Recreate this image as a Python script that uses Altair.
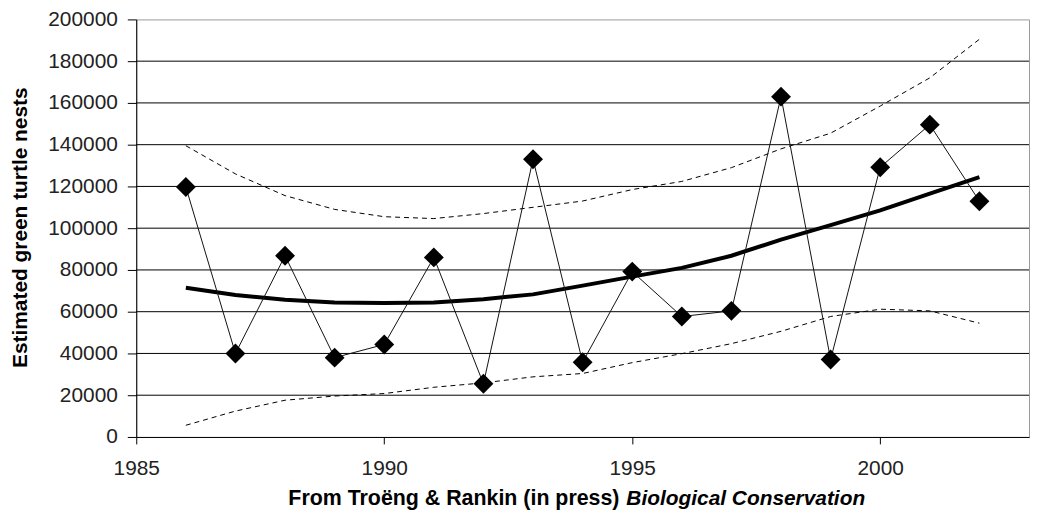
import altair as alt
import pandas as pd

years = list(range(1986, 2003))
observed = [119700, 40000, 86800, 38000, 44300, 86000, 25500, 133000, 35800,
            79200, 57700, 60400, 163000, 37100, 129200, 149600, 112900]
trend = [71500, 68000, 65700, 64400, 64200, 64400, 66000, 68300, 72500,
         76800, 81000, 86800, 94500, 101500, 108500, 116500, 124500]
upper = [139500, 126000, 115600, 109000, 105500, 104600, 107000, 110000, 113000,
         118500, 122400, 129000, 138000, 145500, 158500, 172000, 190500]
lower = [5600, 12400, 17600, 19600, 20800, 23800, 25900, 28800, 30400,
         35600, 39900, 44700, 50600, 57700, 61200, 60400, 54500]

x_ticks = [1985, 1990, 1995, 2000]
y_ticks = list(range(0, 200001, 20000))
grid_vals = list(range(20000, 180001, 20000))

y_title = "Estimated green turtle nests"
x_title_plain = "From Troëng & Rankin (in press)"
x_title_italic = "Biological Conservation"

FONT = "Liberation Sans"

df = pd.DataFrame({"year": years, "observed": observed, "trend": trend,
                   "upper": upper, "lower": lower})
grid_df = pd.DataFrame({"v": grid_vals})

xscale = alt.Scale(domain=[1985, 2003], nice=False, zero=False)
yscale = alt.Scale(domain=[0, 200000], nice=False)

xaxis = alt.Axis(values=x_ticks, format="d", title=None, grid=False,
                 domainColor="black", tickColor="black", tickSize=7,
                 labelFontSize=21, labelFont=FONT, labelColor="#222",
                 labelPadding=14, labelFlush=False)
yaxis = alt.Axis(values=y_ticks, format="d", grid=False,
                 domainColor="black", tickColor="black", tickSize=9,
                 labelFontSize=21, labelFont=FONT, labelColor="#222",
                 labelPadding=10, labelFlush=False,
                 title=y_title, titleFontSize=21, titleFont=FONT,
                 titleFontWeight="bold", titleColor="black",
                 titleAngle=270, titleX=-110, titleY=209,
                 titleBaseline="alphabetic", titleAlign="center")

base = alt.Chart(df)

grid = alt.Chart(grid_df).mark_rule(color="black", strokeWidth=1).encode(
    y=alt.Y("v:Q", scale=yscale, axis=yaxis)
)

upper_l = base.mark_line(color="black", strokeWidth=1, strokeDash=[5, 4]).encode(
    x=alt.X("year:Q", scale=xscale, axis=xaxis),
    y=alt.Y("upper:Q", scale=yscale, axis=yaxis),
)
lower_l = base.mark_line(color="black", strokeWidth=1, strokeDash=[5, 4]).encode(
    x=alt.X("year:Q", scale=xscale, axis=xaxis),
    y=alt.Y("lower:Q", scale=yscale, axis=yaxis),
)
trend_l = base.mark_line(color="black", strokeWidth=4).encode(
    x=alt.X("year:Q", scale=xscale, axis=xaxis),
    y=alt.Y("trend:Q", scale=yscale, axis=yaxis),
)
obs_l = base.mark_line(color="#111", strokeWidth=1).encode(
    x=alt.X("year:Q", scale=xscale, axis=xaxis),
    y=alt.Y("observed:Q", scale=yscale, axis=yaxis),
)
obs_p = base.mark_point(shape="diamond", filled=True, size=400, color="black",
                        opacity=1).encode(
    x=alt.X("year:Q", scale=xscale, axis=xaxis),
    y=alt.Y("observed:Q", scale=yscale, axis=yaxis),
)

t1 = alt.Chart(pd.DataFrame({"t": [x_title_plain]})).mark_text(
    align="left", baseline="alphabetic", fontSize=21.5, font=FONT,
    fontWeight="bold", color="black"
).encode(text="t:N", x=alt.value(153), y=alt.value(488))
t2 = alt.Chart(pd.DataFrame({"t": [x_title_italic]})).mark_text(
    align="left", baseline="alphabetic", fontSize=21, font=FONT,
    fontWeight="bold", fontStyle="italic", color="black"
).encode(text="t:N", x=alt.value(493), y=alt.value(488))

chart = alt.layer(grid, upper_l, lower_l, trend_l, obs_l, obs_p, t1, t2).properties(
    width=898, height=420,
    autosize=alt.AutoSizeParams(type="none"),
    padding={"left": 129, "top": 10, "right": 2, "bottom": 74},
    background="white",
).configure_view(stroke="#999", strokeWidth=1)

chart.save("out.html", embed_options={"renderer": "svg", "actions": False})
